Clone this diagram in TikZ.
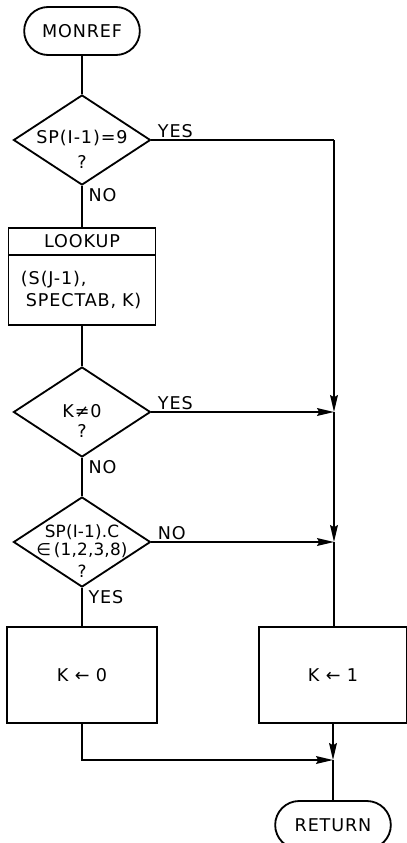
\documentclass[tikz,border=0pt]{standalone}
\usepackage{fontspec}
\setmainfont{DejaVu Sans}[LetterSpace=5]
\newfontfamily\tightfont{DejaVu Sans}[LetterSpace=1]
\usetikzlibrary{arrows.meta,positioning,shapes.geometric,shapes.misc}

\begin{document}
\begin{tikzpicture}[x=0.025cm,y=-0.025cm,line width=1.3pt,
  font=\fontsize{12.5}{13}\selectfont,
  arr/.style={-{Stealth[length=12pt,width=5.5pt,inset=1.5pt]}},
  term/.style={draw,rounded rectangle,minimum width=3.125cm,minimum height=1.2cm},
  decide/.style={draw,diamond,minimum width=3.425cm,minimum height=2.25cm,inner sep=0pt},
  proc/.style={draw,minimum width=3.75cm,minimum height=2.4cm},
  txt/.style={align=center,inner sep=0pt},
  lbl/.style={inner sep=1pt}]
\useasboundingbox (0,0) rectangle (407,843);
% flow down the left side
\node[term] (start) at (82,31) {MONREF};
\node[decide] (d1) at (82,140) {};
\node[txt] (d1txt) at (82,149) {SP(I-1)=9\\[5pt]?};
\node[draw,minimum width=3.675cm,minimum height=0.675cm] (lookhd) at (82,241.5) {LOOKUP};
\node[draw,minimum width=3.675cm,minimum height=1.75cm,text width=3.05cm,align=left,inner sep=0pt] (lookbd) at (82,290)
  {(S(J-1),\\[2pt]\hspace*{3.5pt}SPECTAB, K)};
\node[txt] (d2txt) at (82,421) {K≠0\\[1pt]?};
\node[decide] (d2) at (82,412) {};
\node[decide] (d3) at (82,542) {};
\node[txt,font=\tightfont\fontsize{12}{13}\selectfont] (d3txt) at (82,551)
  {SP(I-1).C\\∈\,(1,2,3,8)\\[3pt]?};
\node[proc] (kzero) at (82,675) {K ← 0};
% right side
\node[proc,minimum width=3.7cm] (kone) at (333,675) {K ← 1};
\node[term] (ret) at (333,825) {RETURN};
\coordinate (c1) at (334,140);
\coordinate (j2) at (334,412);
\coordinate (j3) at (334,542);
\coordinate (jb) at (333,760);
% branch labels
\node[lbl,anchor=south west] (y1) at ([xshift=3pt]d1.east) {YES};
\node[lbl,anchor=north west] (n1) at ([xshift=3pt]d1.south) {NO};
\node[lbl,anchor=south west] (y2) at ([xshift=3pt]d2.east) {YES};
\node[lbl,anchor=north west] (n2) at ([xshift=3pt]d2.south) {NO};
\node[lbl,anchor=south west] (n3) at ([xshift=3pt]d3.east) {NO};
\node[lbl,anchor=north west] (y3) at ([xshift=3pt]d3.south) {YES};
% connectors
\draw (start) -- (d1);
\draw (d1.south) -- (lookhd.north);
\draw (lookbd.south) -- (d2.north);
\draw (d2.south) -- (d3.north);
\draw (d3.south) -- (kzero.north);
\draw (d1.east) -- (c1);
\draw[arr] (c1) -- (j2);
\draw[arr] (j2) -- (j3);
\draw (j3) -- (kone.north -| j3);
\draw[arr] (d2.east) -- (j2);
\draw[arr] (d3.east) -- (j3);
\draw[arr] (kone.south) -- (jb);
\draw[arr] (kzero.south) |- (jb);
\draw (jb) -- (ret.north);
\end{tikzpicture}
\end{document}
